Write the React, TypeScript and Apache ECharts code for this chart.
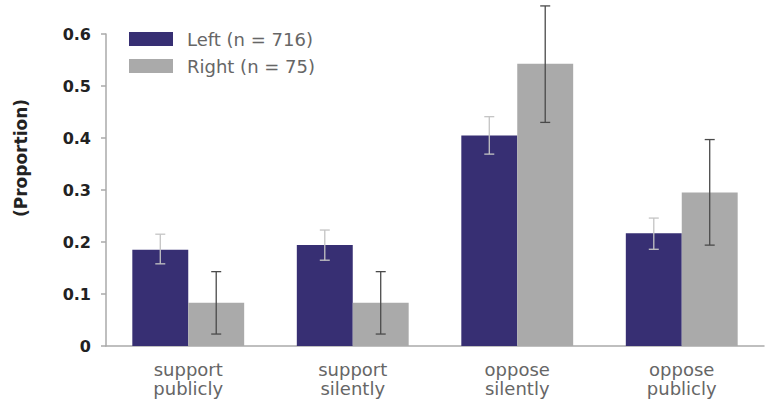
import React, { useEffect, useRef } from "react";
import * as echarts from "echarts";

const categories = ["support\npublicly", "support\nsilently", "oppose\nsilently", "oppose\npublicly"];
const seriesNames = ["Left (n = 716)", "Right (n = 75)"];
const leftValues = [0.185, 0.194, 0.405, 0.217];
const leftLow = [0.158, 0.165, 0.369, 0.186];
const leftHigh = [0.215, 0.223, 0.441, 0.246];
const rightValues = [0.083, 0.083, 0.543, 0.295];
const rightLow = [0.023, 0.023, 0.43, 0.194];
const rightHigh = [0.143, 0.143, 0.654, 0.397];
const yTicks = [0, 0.1, 0.2, 0.3, 0.4, 0.5, 0.6];
const yAxisTitle = "(Proportion)";

const FONT = "'DejaVu Sans', sans-serif";

function errorSeries(low: number[], high: number[], side: number, color: string) {
  return {
    type: "custom",
    silent: true,
    z: 5,
    data: low.map((l, i) => [i, l, high[i]]),
    renderItem: (params: any, api: any) => {
      const idx = api.value(0);
      const lo = api.coord([idx, api.value(1)]);
      const hi = api.coord([idx, api.value(2)]);
      const band = api.size([1, 0])[0];
      const bw = band * 0.34;
      const x = lo[0] + side * bw / 2;
      const cap = 5;
      const style = { stroke: color, lineWidth: 1.3 };
      return {
        type: "group",
        children: [
          { type: "line", shape: { x1: x, y1: lo[1], x2: x, y2: hi[1] }, style },
          { type: "line", shape: { x1: x - cap, y1: lo[1], x2: x + cap, y2: lo[1] }, style },
          { type: "line", shape: { x1: x - cap, y1: hi[1], x2: x + cap, y2: hi[1] }, style },
        ],
      };
    },
  };
}

export default function App() {
  const ref = useRef<HTMLDivElement>(null);
  useEffect(() => {
    if (!ref.current) return;
    const chart = echarts.init(ref.current, undefined, { renderer: "svg" });
    chart.setOption({
      animation: false,
      backgroundColor: "#ffffff",
      textStyle: { fontFamily: FONT },
      grid: { left: 106, right: 2, top: 34, bottom: 54, containLabel: false },
      graphic: [
        {
          type: "text",
          x: 21,
          y: 158,
          rotation: Math.PI / 2,
          style: {
            text: yAxisTitle,
            fill: "#222222",
            font: "bold 17px 'DejaVu Sans', sans-serif",
            textAlign: "center",
            textVerticalAlign: "middle",
          },
        },
      ],
      legend: {
        orient: "vertical",
        left: 129,
        top: 30,
        padding: 0,
        itemWidth: 44,
        itemHeight: 14,
        itemGap: 9,
        icon: "rect",
        data: seriesNames,
        textStyle: { color: "#666666", fontSize: 18, fontFamily: FONT, padding: [0, 0, 0, 9] },
      },
      xAxis: {
        type: "category",
        data: categories,
        axisLine: { lineStyle: { color: "#aaaaaa", width: 1.5 } },
        axisTick: { alignWithLabel: true, length: 8, lineStyle: { color: "#aaaaaa", width: 1.5 } },
        axisLabel: { color: "#666666", fontSize: 18, lineHeight: 19, margin: 14, fontFamily: FONT },
      },
      yAxis: {
        type: "value",
        min: 0,
        max: 0.6,
        interval: 0.1,
        splitLine: { show: false },
        axisLine: { show: true, lineStyle: { color: "#aaaaaa", width: 1.5 } },
        axisTick: { show: true, length: 5, lineStyle: { color: "#aaaaaa", width: 1.5 } },
        axisLabel: {
          color: "#222222",
          fontSize: 16,
          fontWeight: "bold",
          margin: 15,
          fontFamily: FONT,
          formatter: (v: number) => {
            const t = yTicks.find((k) => Math.abs(k - v) < 1e-9);
            const val = t === undefined ? v : t;
            return val === 0 ? "0" : val.toFixed(1);
          },
        },
      },
      series: [
        {
          name: seriesNames[0],
          type: "bar",
          data: leftValues,
          barGap: "0%",
          barCategoryGap: "32%",
          itemStyle: { color: "#372f73" },
        },
        {
          name: seriesNames[1],
          type: "bar",
          data: rightValues,
          barGap: "0%",
          barCategoryGap: "32%",
          itemStyle: { color: "#aaaaaa" },
        },
        errorSeries(leftLow, leftHigh, -1, "#c4c4c4"),
        errorSeries(rightLow, rightHigh, 1, "#4a4a4a"),
      ],
    });
    return () => chart.dispose();
  }, []);
  return <div ref={ref} style={{ width: 766, height: 400, position: "absolute", left: 0, top: 0 }} />;
}
